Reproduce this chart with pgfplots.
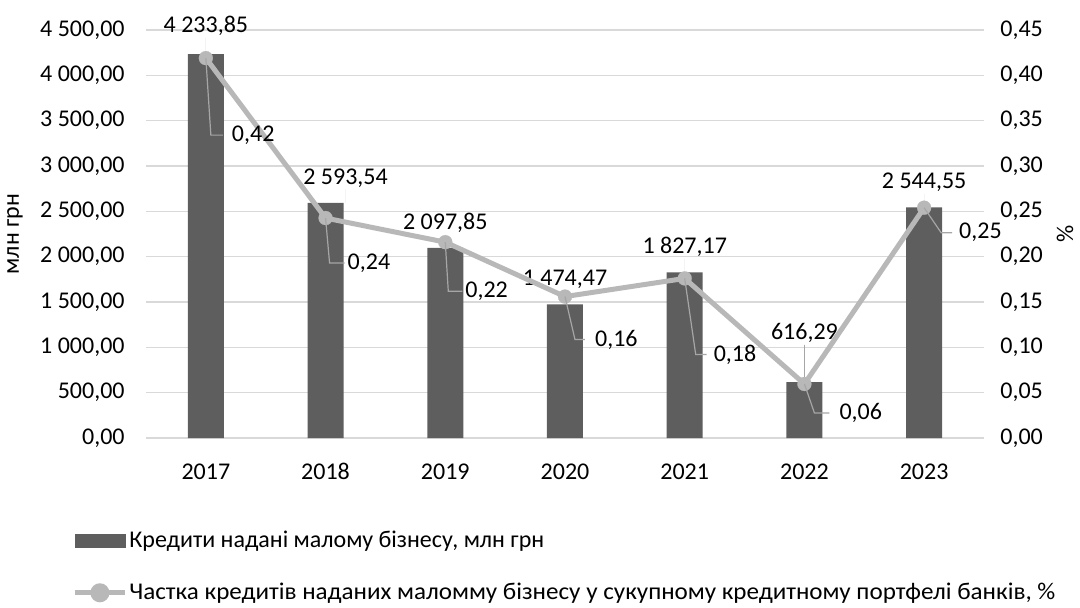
\documentclass[border=0pt]{standalone}
\usepackage{pgfplots}
\pgfplotsset{compat=1.18}
\usepackage{pgfplotstable}
\usepackage{fontspec}
\setmainfont{Carlito}
\definecolor{barc}{HTML}{5E5E5E}
\definecolor{linec}{HTML}{B8B8B8}
\definecolor{gridc}{HTML}{D9D9D9}
\definecolor{leadc}{HTML}{A6A6A6}
\pgfkeys{/pgf/number format/.cd, fixed, fixed zerofill, precision=2, use comma, 1000 sep={\ }, assume math mode=true}
\pgfplotstableread{
x y ly bx lead
0 4233.85 10.7 0 0
1 2593.54 9.2 10 0
2 2097.85 9.2 0 0
3 1474.47 9.2 0 0
4 1827.17 9.2 0 0
5 616.29 21.2 0 1
6 2544.55 9.2 0 0
}\bars
\pgfplotstableread{
x y dx dy cx ex
0 0.419 13 -38.5 2.5 8.5
1 0.2426 11 -22.5 2 9.5
2 0.216 10 -24.5 1.5 8.5
3 0.156 15 -21.5 5 10
4 0.176 14.5 -38 5.5 11
5 0.0596 17.5 -14.5 5 12.5
6 0.254 17.5 -12.5 8.5 14
}\share
\begin{document}
\fontsize{12}{14.4}\selectfont
\begin{tikzpicture}
\path[use as bounding box] (0,0) rectangle (540pt,303.5pt);
\pgfplotsset{
  common/.style={
    at={(73pt,84.5pt)}, anchor=south west,
    scale only axis, width=419pt, height=204pt,
    xmin=-0.5, xmax=6.5,
    axis line style={draw=none}, tick style={draw=none},
  }
}
\begin{axis}[
  common,
  ymin=0, ymax=4500,
  ytick={0,500,...,4500},
  xtick={0,...,6}, xticklabels={2017,2018,2019,2020,2021,2022,2023},
  ymajorgrids, grid style={gridc, line width=0.75pt},
  yticklabel style={anchor=east, inner sep=0pt, xshift=-10.5pt},
  xticklabel style={anchor=base, inner sep=0pt, yshift=-20.5pt},
  ylabel={млн грн},
  ylabel style={at={(axis description cs:-0.1563,0.5)}, anchor=center, rotate=0},
]
\addplot[ybar, bar width=18pt, fill=barc, draw=none,
  visualization depends on={\thisrow{ly} \as \bly},
  visualization depends on={\thisrow{bx} \as \bbx},
  visualization depends on={\thisrow{lead} \as \blead},
  nodes near coords,
  every node near coord/.append style={text=black, anchor=base, inner sep=0pt, yshift=\bly pt, xshift=\bbx pt,
    append after command={\pgfextra{\draw[leadc, line width=0.6pt, draw opacity=\blead] ([yshift=-2.5pt]\tikzlastnode.base) -- ([yshift=-\bly pt]\tikzlastnode.base);}}},
] table[x=x, y=y] {\bars};
\end{axis}
\begin{axis}[
  common,
  ymin=0, ymax=0.45,
  ytick={0,0.05,0.1,0.15,0.2,0.25,0.3,0.35,0.4,0.45},
  xtick=\empty,
  yticklabel pos=right,
  yticklabel style={anchor=west, inner sep=0pt, xshift=8pt},
  ylabel={\%},
  ylabel style={at={(axis description cs:1.0967,0.5)}, anchor=center, rotate=0},
  legend style={at={(axis description cs:-0.0883,-0.226)}, anchor=north west, draw=none, fill=none, inner sep=0pt, row sep=16pt, column sep=1pt, nodes={inner sep=0pt, anchor=west}},
  legend cell align=left,
]
\addlegendimage{legend image code/.code={\fill[barc] (0pt,-3.25pt) rectangle (25pt,3.25pt);}}
\addlegendentry{Кредити надані малому бізнесу, млн грн}
\addplot[linec, line width=2.5pt, mark=*, mark size=3.5pt, mark options={fill=linec, draw=linec, line width=0.1pt},
  legend image code/.code={\draw[linec, line width=2.5pt] (0pt,0pt) -- (25pt,0pt); \fill[linec] (12.5pt,0pt) circle (3.5pt);},
  visualization depends on={\thisrow{dx} \as \ldx},
  visualization depends on={\thisrow{dy} \as \ldy},
  visualization depends on={\thisrow{cx} \as \lcx},
  visualization depends on={\thisrow{ex} \as \lex},
  nodes near coords,
  every node near coord/.append style={text=black, anchor=west, inner sep=0pt, xshift=\ldx pt, yshift=\ldy pt,
    append after command={\pgfextra{\draw[leadc, line width=0.6pt] ([xshift={\lex pt-\ldx pt}]\tikzlastnode.west) -- ([xshift={\lcx pt-\ldx pt}]\tikzlastnode.west) -- ([xshift={-\ldx pt}, yshift={-\ldy pt}]\tikzlastnode.west);}}},
] table[x=x, y=y] {\share};
\addlegendentry{\scalebox{1.045}[1]{Частка кредитів наданих маломму бізнесу у сукупному кредитному портфелі банків, \%}}
\end{axis}
\end{tikzpicture}
\end{document}
